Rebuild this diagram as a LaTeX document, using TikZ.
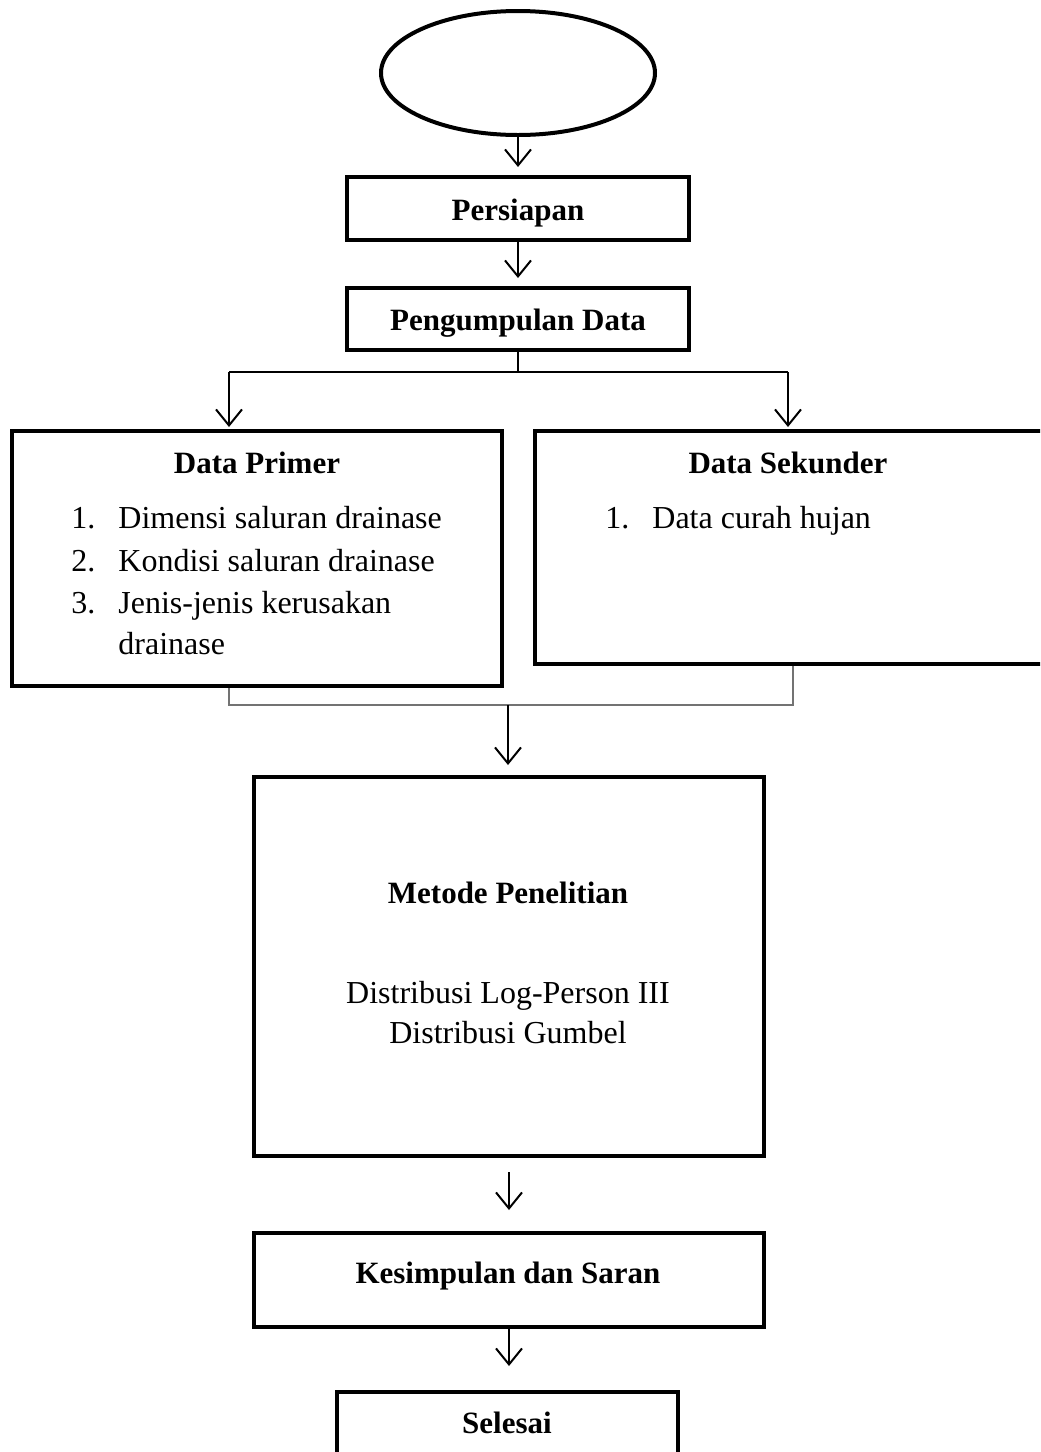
\documentclass[tikz,border=0pt]{standalone}
\usepackage{fontspec}
\setmainfont{Liberation Serif}
\usetikzlibrary{shapes.geometric,arrows.meta}

\begin{document}
\begin{tikzpicture}[x=0.5pt,y=-0.5pt,
        every node/.style={inner sep=0pt, font=\fontsize{16}{19}\selectfont}
    ]
    \tikzstyle {flow_box} = [rectangle, draw, line width=2pt]
    \tikzstyle {flow_arrow} = [line width=1pt, -{Straight Barb[length=8pt,width=13pt]}]
    \tikzstyle {merge_line} = [line width=1pt, black!55]
    \tikzstyle {title_text} = [anchor=base, font=\fontsize{15.5}{19}\selectfont\bfseries]
    \tikzstyle {item_text} = [anchor=base west]

    \clip (0,0) rectangle (1040,1452);

    \node [ellipse, draw, line width=2pt, minimum width=137pt, minimum height=62pt] (start) at (518,73) {};
    \node [flow_box, minimum width=171pt, minimum height=31.5pt] (persiapan) at (518,208.5) {};
    \node [flow_box, minimum width=171pt, minimum height=31pt] (pengumpulan) at (518,319) {};
    \node [flow_box, minimum width=245pt, minimum height=127.5pt] (primer) at (257,558.5) {};
    \node [flow_box, minimum width=262.5pt, minimum height=116.5pt] (sekunder) at (797.5,547.5) {};
    \node [flow_box, minimum width=255pt, minimum height=189.5pt] (metode) at (509,966.5) {};
    \node [flow_box, minimum width=255pt, minimum height=47pt] (kesimpulan) at (509,1280) {};
    \node [flow_box, minimum width=170.5pt, minimum height=44pt] (selesai) at (507.5,1436) {};

    % texts in the boxes
    \node [title_text] (persiapan_txt) at (518,220) {Persiapan};
    \node [title_text] (pengumpulan_txt) at (518,330) {Pengumpulan Data};

    \node [title_text] (primer_title) at (257,473) {Data Primer};
    \node [item_text] (p_n1) at (71,528) {1.};
    \node [item_text] (p_t1) at (118,528) {Dimensi saluran drainase};
    \node [item_text] (p_n2) at (71,571) {2.};
    \node [item_text] (p_t2) at (118,571) {Kondisi saluran drainase};
    \node [item_text] (p_n3) at (71,613) {3.};
    \node [item_text] (p_t3) at (118,613) {Jenis-jenis kerusakan};
    \node [item_text] (p_t3b) at (118,654) {drainase};

    \node [title_text] (sekunder_title) at (788,473) {Data Sekunder};
    \node [item_text] (s_n1) at (605,528) {1.};
    \node [item_text] (s_t1) at (652,528) {Data curah hujan};

    \node [title_text] (metode_title) at (508,903) {Metode Penelitian};
    \node [anchor=base] (metode_l1) at (508,1003) {Distribusi Log-Person III};
    \node [anchor=base] (metode_l2) at (508,1043) {Distribusi Gumbel};

    \node [title_text] (kesimpulan_txt) at (508,1283) {Kesimpulan dan Saran};
    \node [title_text] (selesai_txt) at (507,1433) {Selesai};

    % connectors
    \coordinate (split) at (518,372);
    \coordinate (left_drop) at (229,372);
    \coordinate (right_drop) at (788,372);
    \coordinate (join_left) at (229,705);
    \coordinate (join_mid) at (508,705);
    \coordinate (join_right) at (793,705);

    \draw [flow_arrow, shorten >=4pt] (start.south) -- (persiapan.north);
    \draw [flow_arrow, shorten >=4pt] (persiapan.south) -- (pengumpulan.north);
    \draw [line width=1pt] (pengumpulan.south) -- (split);
    \draw [line width=1pt] (left_drop) -- (right_drop);
    \draw [flow_arrow, shorten >=1pt] (left_drop) -- (left_drop |- primer.north);
    \draw [flow_arrow, shorten >=1pt] (right_drop) -- (right_drop |- sekunder.north);
    \draw [merge_line] (primer.south -| join_left) -- (join_left) -- (join_right) -- (sekunder.south -| join_right);
    \draw [flow_arrow, shorten >=5pt] (join_mid) -- (join_mid |- metode.north);
    \draw [flow_arrow, shorten <=7pt, shorten >=10.5pt] (metode.south) -- (kesimpulan.north);
    \draw [flow_arrow, shorten >=12pt] (kesimpulan.south) -- (kesimpulan.south |- selesai.north);
\end{tikzpicture}
\end{document}
